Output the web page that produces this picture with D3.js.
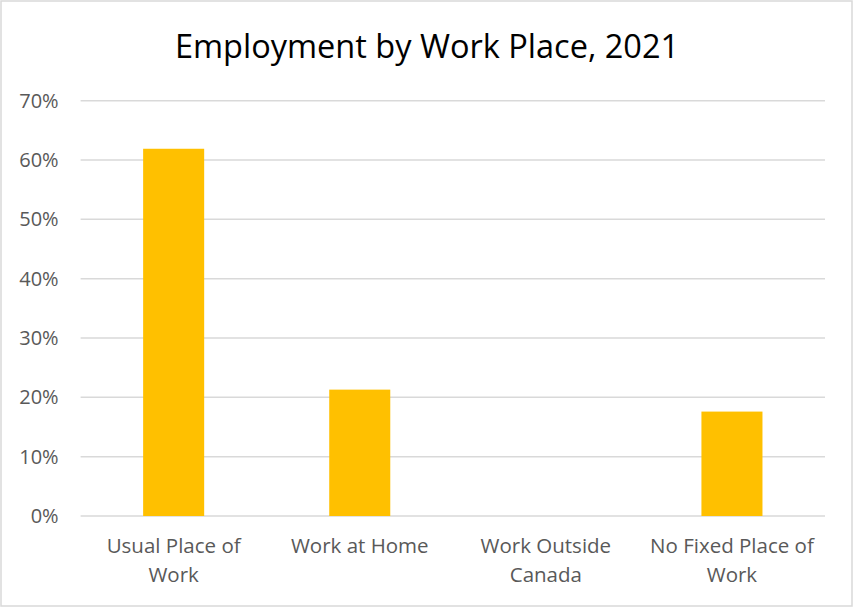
<!DOCTYPE html>
<html>
<head>
<meta charset="utf-8">
<script src="https://cdn.jsdelivr.net/npm/d3@7"></script>
<style>
  html, body { margin: 0; padding: 0; background: #fff; }
  svg { display: block; }
  text { font-family: "Open Sans", "Liberation Sans", sans-serif; }
</style>
</head>
<body>
<svg id="chart" width="853" height="608"></svg>
<script>
// Employment by place of work, share of employed (%)
const categories = [["Usual Place of", "Work"], ["Work at Home"], ["Work Outside", "Canada"], ["No Fixed Place of", "Work"]];
const values = [61.9, 21.3, 0, 17.6];
const yTicks = [0, 10, 20, 30, 40, 50, 60, 70];
const title = "Employment by Work Place, 2021";

const W = 853, H = 608;
const margin = { left: 80.6, right: 28, top: 100.7, bottom: 92 };
const svg = d3.select("#chart");

// chart frame
svg.append("rect")
  .attr("x", 1).attr("y", 1).attr("width", W - 2).attr("height", H - 3)
  .attr("fill", "#fff").attr("stroke", "#d9d9d9").attr("stroke-width", 1.5);

const x = d3.scaleBand()
  .domain(categories.map((c, i) => i))
  .range([margin.left, W - margin.right])
  .paddingInner(0.672).paddingOuter(0.336);

const y = d3.scaleLinear().domain([0, 70]).range([516, margin.top]);

// gridlines
svg.append("g").selectAll("line").data(yTicks).join("line")
  .attr("x1", margin.left).attr("x2", W - margin.right)
  .attr("y1", d => y(d)).attr("y2", d => y(d))
  .attr("stroke", "#d9d9d9").attr("stroke-width", 1.5);

// y-axis tick labels
const yAxis = d3.axisLeft(y).tickValues(yTicks).tickFormat(d => d + "%").tickSize(0).tickPadding(0);
const gy = svg.append("g").attr("transform", `translate(${margin.left - 22},0)`).call(yAxis);
gy.select(".domain").remove();
gy.selectAll("text")
  .attr("fill", "#595959").attr("font-size", 20)
  .attr("font-family", "'Open Sans', 'Liberation Sans', sans-serif");

// bars
svg.append("g").selectAll("rect").data(values).join("rect")
  .attr("x", (d, i) => x(i))
  .attr("width", x.bandwidth())
  .attr("y", d => y(d))
  .attr("height", d => y(0) - y(d))
  .attr("fill", "#ffc000");

// category labels
const gx = svg.append("g");
categories.forEach((lines, i) => {
  const t = gx.append("text")
    .attr("x", x(i) + x.bandwidth() / 2)
    .attr("y", 553)
    .attr("text-anchor", "middle")
    .attr("fill", "#595959")
    .attr("font-size", 20.5);
  lines.forEach((ln, k) => {
    t.append("tspan").attr("x", x(i) + x.bandwidth() / 2).attr("dy", k === 0 ? 0 : 29).text(ln);
  });
});

// title
svg.append("text")
  .attr("x", 427).attr("y", 58)
  .attr("text-anchor", "middle")
  .attr("fill", "#000")
  .attr("font-size", 32.5)
  .text(title);
</script>
</body>
</html>
